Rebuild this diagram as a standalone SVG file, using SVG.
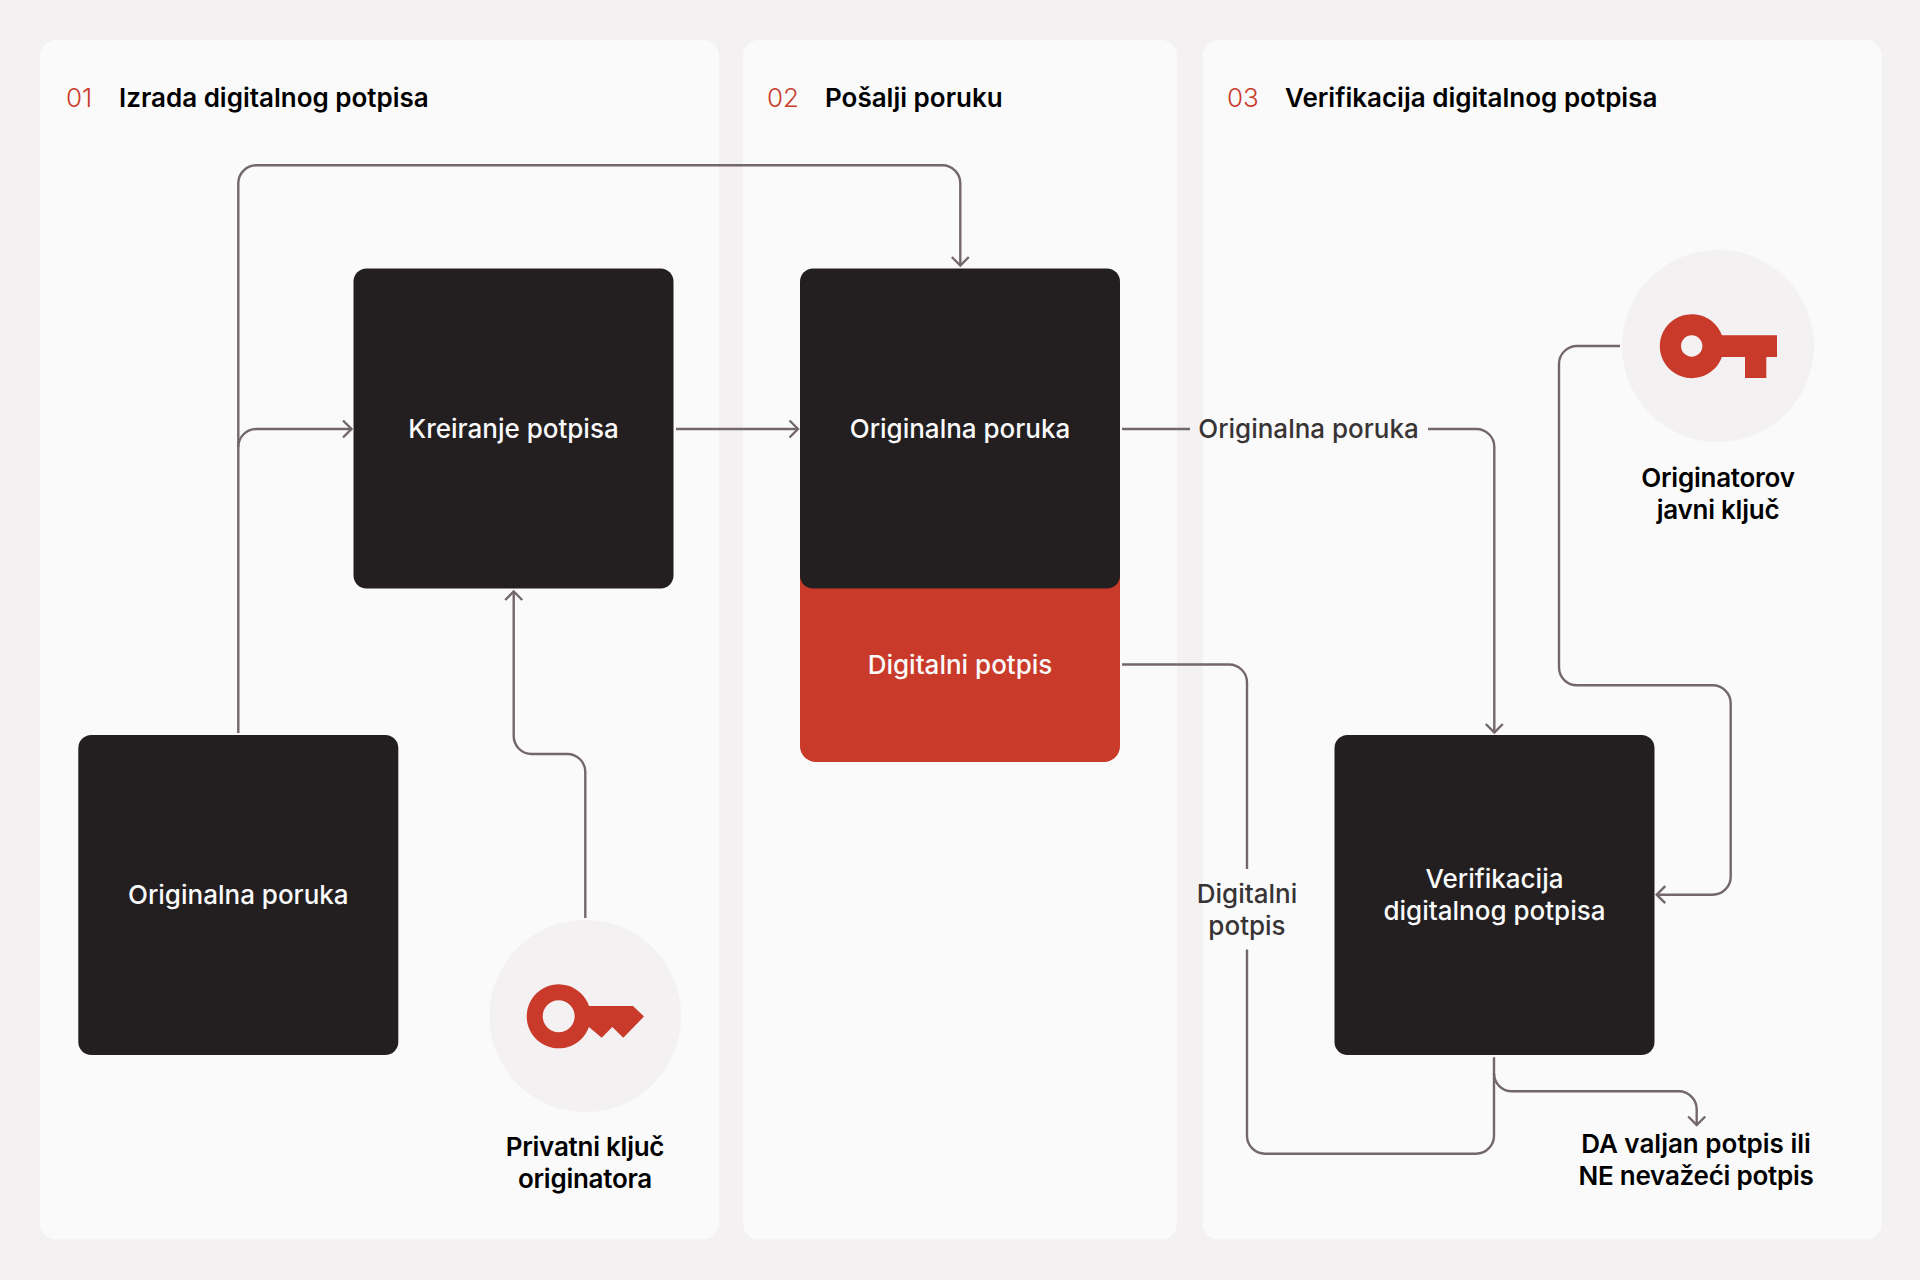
<svg xmlns="http://www.w3.org/2000/svg" width="1920" height="1280" viewBox="0 0 1920 1280">
<style>
text{font-family:Inter,"Liberation Sans",sans-serif}
.panel{fill:#fafafa}
.box{fill:#231f20}
.red{fill:#c93a2a}
.nt{fill:#fafafa;font-size:26px;font-weight:500;text-anchor:middle}
.lb{fill:#383435;font-size:26px;font-weight:500;text-anchor:middle}
.cap{fill:#000;font-size:26px;font-weight:600;text-anchor:middle}
.tight{letter-spacing:-.25px}
.hd{fill:#000;font-size:26px;font-weight:600}
.no{fill:#c93a2a;font-size:26px;font-weight:300}
.c{fill:none;stroke:#736769;stroke-width:2.4}
.disc{fill:#f3f1f2}
</style>
<defs><marker id="a" markerUnits="userSpaceOnUse" viewBox="-12 -10 20 20" markerWidth="20" markerHeight="20" refX="0" refY="0" orient="auto"><path d="M-8.500-8.500L0 0L-8.500 8.500" fill="none" stroke="#736769" stroke-width="2.400"/></marker></defs>
<rect width="1920" height="1280" fill="#f3f1f2"/>
<g id="panel-1"><rect class="panel" x="40" y="40" width="679" height="1199.500" rx="16"/><text class="no" x="66" y="107">01</text><text class="hd" x="119" y="107">Izrada digitalnog potpisa</text></g>
<g id="panel-2"><rect class="panel" x="743" y="40" width="434" height="1199.500" rx="16"/><text class="no" x="767" y="107">02</text><text class="hd" x="825" y="107">Pošalji poruku</text></g>
<g id="panel-3"><rect class="panel" x="1202.700" y="40" width="679" height="1199.500" rx="16"/><text class="no" x="1227" y="107">03</text><text class="hd" x="1285" y="107">Verifikacija digitalnog potpisa</text></g>
<g id="connectors">
<path class="c" marker-end="url(#a)" d="M238.300 733V183.300A18 18 0 0 1 256.300 165.300H942.300A18 18 0 0 1 960.300 183.300V265.500"/>
<path class="c" marker-end="url(#a)" d="M238.300 447A18 18 0 0 1 256.300 429H351.500"/>
<path class="c" marker-end="url(#a)" d="M676 429H798"/>
<path class="c" marker-end="url(#a)" d="M585.300 918V772A18 18 0 0 0 567.300 754H531.700A18 18 0 0 1 513.700 736V591.500"/>
<path class="c" d="M1122 429H1190"/>
<path class="c" marker-end="url(#a)" d="M1428 429H1476.300A18 18 0 0 1 1494.300 447V732.500"/>
<path class="c" d="M1122 664.500H1229A18 18 0 0 1 1247 682.500V869"/>
<path class="c" d="M1247 949.500V1135.700A18 18 0 0 0 1265 1153.700H1476A18 18 0 0 0 1494 1135.700V1057.300"/>
<path class="c" marker-end="url(#a)" d="M1494 1073.300A18 18 0 0 0 1512 1091.300H1678.700A18 18 0 0 1 1696.700 1109.300V1125"/>
<path class="c" marker-end="url(#a)" d="M1620 346H1577A18 18 0 0 0 1559 364V667.300A18 18 0 0 0 1577 685.300H1712.700A18 18 0 0 1 1730.700 703.300V876.700A18 18 0 0 1 1712.700 894.700H1656.700"/>
</g>
<g id="node-kreiranje"><rect class="box" x="353.500" y="268.500" width="320" height="320" rx="13"/><text class="nt" x="513.500" y="438">Kreiranje potpisa</text></g>
<g id="node-digitalni"><path class="red" d="M800 560H1120V746a16 16 0 0 1-16 16H816a16 16 0 0 1-16-16Z"/><text class="nt" x="960" y="674">Digitalni potpis</text></g>
<g id="node-poruka-2"><rect class="box" x="800" y="268.500" width="320" height="320" rx="13"/><text class="nt" x="960" y="438">Originalna poruka</text></g>
<g id="node-poruka-1"><rect class="box" x="78.300" y="735" width="320" height="320" rx="13"/><text class="nt" x="238.300" y="904">Originalna poruka</text></g>
<g id="node-verifikacija"><rect class="box" x="1334.500" y="735" width="320" height="320" rx="13"/><text class="nt" x="1494.500" y="888">Verifikacija</text><text class="nt" x="1494.500" y="920">digitalnog potpisa</text></g>
<g id="node-privatni"><circle class="disc" cx="585.300" cy="1016" r="96"/><path class="red" fill-rule="evenodd" d="M589 1006H633L644 1016.500L623.300 1037.700L612.300 1027L601.700 1037.700L588.900 1027A32 32 0 1 1 589 1006ZM574.700 1016.300A16 16 0 1 0 542.700 1016.300A16 16 0 1 0 574.700 1016.300Z"/><text class="cap tight" x="585" y="1156">Privatni ključ</text><text class="cap tight" x="585" y="1188">originatora</text></g>
<g id="node-javni"><circle class="disc" cx="1718" cy="346" r="96"/><path class="red" fill-rule="evenodd" d="M1721.900 335.300H1777V357H1766.300V378H1745V357H1721.900A32 32 0 1 1 1721.900 335.300ZM1702.400 346A10.700 10.700 0 1 0 1681 346A10.700 10.700 0 1 0 1702.400 346Z"/><text class="cap tight" x="1718" y="487">Originatorov</text><text class="cap tight" x="1718" y="519">javni ključ</text></g>
<g id="labels"><text class="lb" x="1308.500" y="438">Originalna poruka</text><text class="lb" x="1247" y="903">Digitalni</text><text class="lb" x="1247" y="935">potpis</text></g>
<g id="result"><text class="cap" x="1696" y="1153">DA valjan potpis ili</text><text class="cap tight" x="1696" y="1185">NE nevažeći potpis</text></g>
</svg>
